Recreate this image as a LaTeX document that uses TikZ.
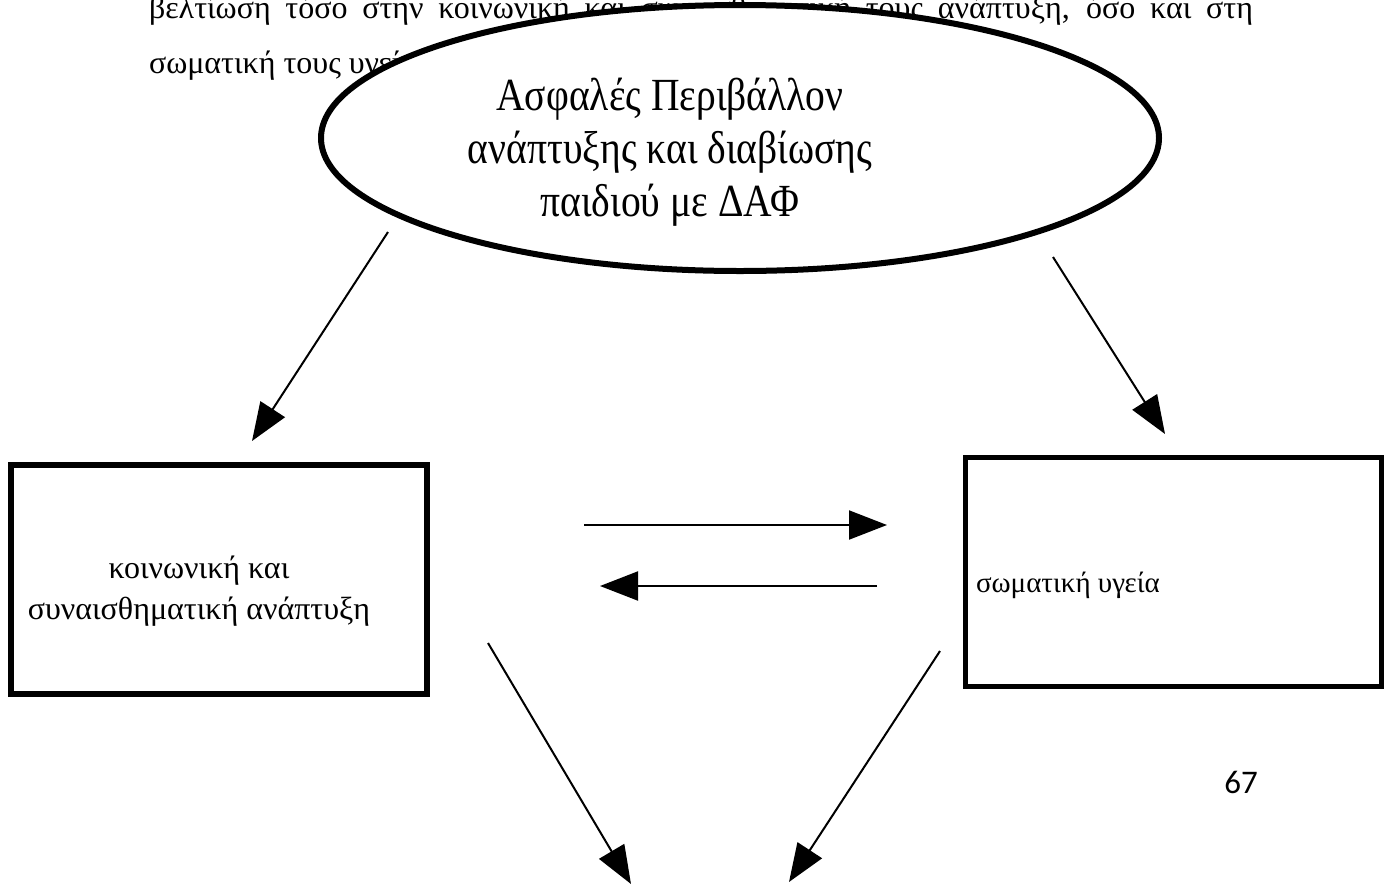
\documentclass[tikz,border=0pt]{standalone}
\usepackage{fontspec}
\setmainfont{Liberation Serif}
\newfontfamily\ovalfont{Liberation Serif}[FakeStretch=0.86]
\newfontfamily\pagenumfont{Carlito}
\usetikzlibrary{arrows.meta,positioning,shapes.geometric}
\tikzset{every picture/.style={line width=1pt}}
\tikzstyle{body}=[inner sep=0pt,anchor=base west,font=\fontsize{16}{19}\selectfont]
\tikzstyle{oval}=[ellipse,draw,fill=white,line width=3pt,minimum width=419pt,minimum height=133pt]
\tikzstyle{frame}=[rectangle,draw,line width=2.8pt,minimum width=208pt,minimum height=114.5pt]
\tikzstyle{ovaltext}=[align=center,inner sep=0pt,font=\ovalfont\fontsize{23}{26.5}\selectfont]
\tikzstyle{frametext}=[inner sep=0pt,font=\fontsize{14.5}{18}\selectfont]

\begin{document}
\begin{tikzpicture}[x=0.5pt,y=-0.5pt]
\useasboundingbox (0,0) rectangle (1392,895);
% page text behind the figure
\node[body] (line1) at (148,18) {\makebox[552pt][s]{βελτίωση τόσο στην κοινωνική και συναισθηματική τους ανάπτυξη, όσο και στη}};
\node[body] (line2) at (148,73) {σωματική τους υγεία.};
% figure
\node[oval] (env) at (740,138) {};
\node[ovaltext] (envtext) at (670,152) {Ασφαλές Περιβάλλον\\ανάπτυξης και διαβίωσης\\παιδιού με ΔΑΦ};
\node[frame] (social) at (219,579.5) {};
\node[frametext,align=center,font=\fontsize{16}{20.5}\selectfont] (socialtext) at (199,591) {κοινωνική και\\συναισθηματική ανάπτυξη};
\node[frame] (health) at (1173.5,572) {};
\node[frametext,anchor=west] (healthtext) at (975,585) {σωματική υγεία};
\node[font=\pagenumfont\fontsize{16.5}{19}\selectfont,inner sep=0pt] (page) at (1241,782) {67};
% arrow ends
\coordinate (a1) at (388,232);  \coordinate (a2) at (252,441);
\coordinate (b1) at (1053,257); \coordinate (b2) at (1165,434);
\coordinate (c1) at (584,525);  \coordinate (c2) at (887,525);
\coordinate (d1) at (877,586);  \coordinate (d2) at (600,586);
\coordinate (e1) at (488,643);  \coordinate (e2) at (631,884);
\coordinate (f1) at (940,651);  \coordinate (f2) at (789,882);
\path[-{Triangle[length=19pt,width=14.5pt]}]
(a1) edge (a2)
(b1) edge (b2)
(c1) edge (c2)
(d1) edge (d2)
(e1) edge (e2)
(f1) edge (f2);
\end{tikzpicture}
\end{document}
